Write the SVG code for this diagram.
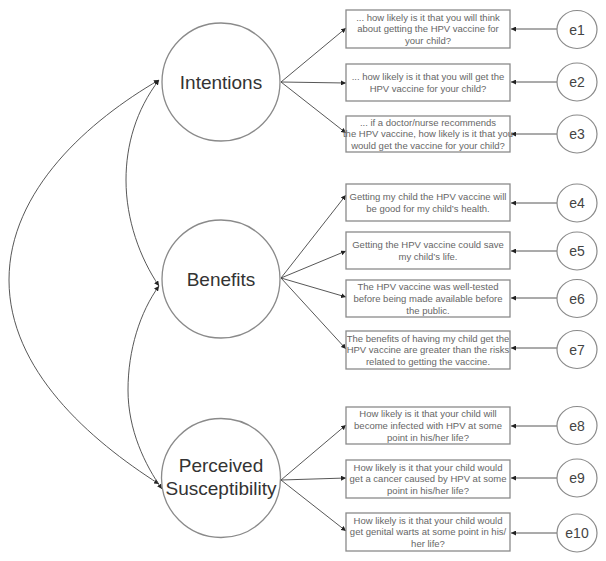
<svg xmlns="http://www.w3.org/2000/svg" width="606" height="561" viewBox="0 0 606 561">
<style>
.bg{fill:#fff}
.lat{fill:#fff;stroke:#8a8a8a;stroke-width:1.3}
.lab{font-family:"Liberation Sans",Arial,sans-serif;font-size:19px;fill:#333;text-anchor:middle}
.box{fill:#fff;stroke:#8a8a8a;stroke-width:1.3}
.bt{font-family:"Liberation Sans",Arial,sans-serif;font-size:9.5px;fill:#666;text-anchor:middle}
.err{fill:#fff;stroke:#8a8a8a;stroke-width:1.2}
.et{font-family:"Liberation Sans",Arial,sans-serif;font-size:14px;fill:#444;text-anchor:middle}
.ln{fill:none;stroke:#444;stroke-width:0.9}
</style>
<defs>
<marker id="ah" viewBox="0 0 10 10" refX="10" refY="5" markerWidth="5" markerHeight="5" orient="auto" markerUnits="userSpaceOnUse">
<path d="M0,0 L10,5 L0,10 z" fill="#222"/>
</marker>
<marker id="as" viewBox="0 0 10 10" refX="0" refY="5" markerWidth="5" markerHeight="5" orient="auto" markerUnits="userSpaceOnUse">
<path d="M10,0 L0,5 L10,10 z" fill="#222"/>
</marker>
</defs>
<rect class="bg" x="0" y="0" width="606" height="561"/>

<g id="connectors">
<path class="ln" d="M159,80 C90,120 9,190 9,280 C9,370 90,440 159,484" marker-start="url(#as)" marker-end="url(#ah)"/>
<path class="ln" d="M159,80 C136,110 126,145 126,180 C126,220 140,258 159,286" marker-start="url(#as)" marker-end="url(#ah)"/>
<path class="ln" d="M159,286 C140,312 128,350 128,390 C128,430 145,465 162,489" marker-start="url(#as)" marker-end="url(#ah)"/>
<line class="ln" x1="281" y1="82" x2="346" y2="28" marker-end="url(#ah)"/>
<line class="ln" x1="281" y1="82" x2="346" y2="83" marker-end="url(#ah)"/>
<line class="ln" x1="281" y1="82" x2="346" y2="133" marker-end="url(#ah)"/>
<line class="ln" x1="281" y1="278" x2="346" y2="195" marker-end="url(#ah)"/>
<line class="ln" x1="281" y1="278" x2="346" y2="251" marker-end="url(#ah)"/>
<line class="ln" x1="281" y1="278" x2="346" y2="297" marker-end="url(#ah)"/>
<line class="ln" x1="281" y1="278" x2="346" y2="349" marker-end="url(#ah)"/>
<line class="ln" x1="281" y1="480" x2="346" y2="425" marker-end="url(#ah)"/>
<line class="ln" x1="281" y1="480" x2="346" y2="478" marker-end="url(#ah)"/>
<line class="ln" x1="281" y1="480" x2="346" y2="531" marker-end="url(#ah)"/>
<line class="ln" x1="557" y1="29" x2="511" y2="29" marker-end="url(#ah)"/>
<line class="ln" x1="557" y1="82" x2="511" y2="82" marker-end="url(#ah)"/>
<line class="ln" x1="557" y1="134" x2="511" y2="134" marker-end="url(#ah)"/>
<line class="ln" x1="557" y1="203" x2="511" y2="203" marker-end="url(#ah)"/>
<line class="ln" x1="557" y1="251" x2="511" y2="251" marker-end="url(#ah)"/>
<line class="ln" x1="557" y1="298" x2="511" y2="298" marker-end="url(#ah)"/>
<line class="ln" x1="557" y1="348" x2="511" y2="348" marker-end="url(#ah)"/>
<line class="ln" x1="557" y1="426" x2="511" y2="426" marker-end="url(#ah)"/>
<line class="ln" x1="557" y1="478" x2="511" y2="478" marker-end="url(#ah)"/>
<line class="ln" x1="557" y1="533" x2="511" y2="533" marker-end="url(#ah)"/>
</g>

<g id="intentions">
<circle class="lat" cx="221" cy="82" r="59"/>
<text class="lab" x="221" y="89">Intentions</text>
</g>
<g id="benefits">
<circle class="lat" cx="221" cy="279" r="59"/>
<text class="lab" x="221" y="286">Benefits</text>
</g>
<g id="susceptibility">
<circle class="lat" cx="221" cy="478" r="59.5"/>
<text class="lab" x="221" y="472">Perceived</text>
<text class="lab" x="221" y="495">Susceptibility</text>
</g>

<g id="item1">
<rect class="box" x="346" y="10" width="164" height="38"/>
<text class="bt" x="428" y="20.6">... how likely is it that you will think</text>
<text class="bt" x="428" y="32.3">about getting the HPV vaccine for</text>
<text class="bt" x="428" y="44">your child?</text>
</g>
<g id="item2">
<rect class="box" x="346" y="64" width="164" height="37"/>
<text class="bt" x="428" y="79.9">... how likely is it that you will get the</text>
<text class="bt" x="428" y="91.6">HPV vaccine for your child?</text>
</g>
<g id="item3">
<rect class="box" x="346" y="116" width="164" height="36"/>
<text class="bt" x="428" y="125.6">... if a doctor/nurse recommends</text>
<text class="bt" x="428" y="137.3">the HPV vaccine, how likely is it that you</text>
<text class="bt" x="428" y="149">would get the vaccine for your child?</text>
</g>
<g id="item4">
<rect class="box" x="346" y="184" width="164" height="37"/>
<text class="bt" x="428" y="199.9">Getting my child the HPV vaccine will</text>
<text class="bt" x="428" y="211.6">be good for my child’s health.</text>
</g>
<g id="item5">
<rect class="box" x="346" y="232" width="164" height="37"/>
<text class="bt" x="428" y="247.9">Getting the HPV vaccine could save</text>
<text class="bt" x="428" y="259.6">my child’s life.</text>
</g>
<g id="item6">
<rect class="box" x="346" y="280" width="164" height="37"/>
<text class="bt" x="428" y="290.1">The HPV vaccine was well-tested</text>
<text class="bt" x="428" y="301.8">before being made available before</text>
<text class="bt" x="428" y="313.5">the public.</text>
</g>
<g id="item7">
<rect class="box" x="346" y="331" width="164" height="38"/>
<text class="bt" x="428" y="341.6">The benefits of having my child get the</text>
<text class="bt" x="428" y="353.3">HPV vaccine are greater than the risks</text>
<text class="bt" x="428" y="365">related to getting the vaccine.</text>
</g>
<g id="item8">
<rect class="box" x="346" y="407" width="164" height="37"/>
<text class="bt" x="428" y="417.1">How likely is it that your child will</text>
<text class="bt" x="428" y="428.8">become infected with HPV at some</text>
<text class="bt" x="428" y="440.5">point in his/her life?</text>
</g>
<g id="item9">
<rect class="box" x="346" y="460" width="164" height="38"/>
<text class="bt" x="428" y="470.6">How likely is it that your child would</text>
<text class="bt" x="428" y="482.3">get a cancer caused by HPV at some</text>
<text class="bt" x="428" y="494">point in his/her life?</text>
</g>
<g id="item10">
<rect class="box" x="346" y="513" width="164" height="38"/>
<text class="bt" x="428" y="523.6">How likely is it that your child would</text>
<text class="bt" x="428" y="535.3">get genital warts at some point in his/</text>
<text class="bt" x="428" y="547">her life?</text>
</g>

<g id="e1"><ellipse class="err" cx="577" cy="29.5" rx="20" ry="19"/><text class="et" x="577" y="34.5">e1</text></g>
<g id="e2"><ellipse class="err" cx="577" cy="82" rx="20" ry="19"/><text class="et" x="577" y="87">e2</text></g>
<g id="e3"><ellipse class="err" cx="577" cy="134" rx="20" ry="19"/><text class="et" x="577" y="139">e3</text></g>
<g id="e4"><ellipse class="err" cx="577" cy="203" rx="20" ry="19"/><text class="et" x="577" y="208">e4</text></g>
<g id="e5"><ellipse class="err" cx="577" cy="251" rx="20" ry="19"/><text class="et" x="577" y="256">e5</text></g>
<g id="e6"><ellipse class="err" cx="577" cy="298.5" rx="20" ry="19"/><text class="et" x="577" y="303.5">e6</text></g>
<g id="e7"><ellipse class="err" cx="577" cy="349.5" rx="20" ry="19"/><text class="et" x="577" y="354.5">e7</text></g>
<g id="e8"><ellipse class="err" cx="577" cy="425.5" rx="20" ry="19"/><text class="et" x="577" y="430.5">e8</text></g>
<g id="e9"><ellipse class="err" cx="577" cy="478" rx="20" ry="19"/><text class="et" x="577" y="483">e9</text></g>
<g id="e10"><ellipse class="err" cx="577" cy="533" rx="20" ry="19"/><text class="et" x="577" y="538">e10</text></g>
</svg>
